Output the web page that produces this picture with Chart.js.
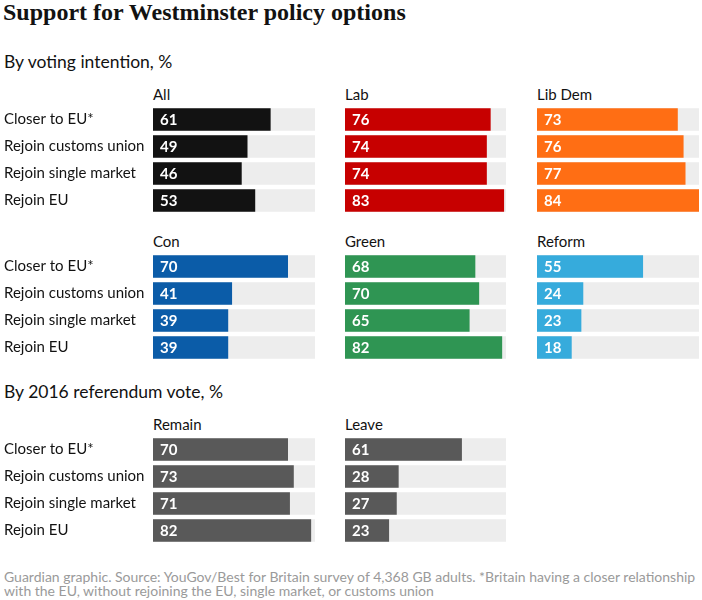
<!DOCTYPE html>
<html>
<head>
<meta charset="utf-8">
<script src="https://cdn.jsdelivr.net/npm/chart.js@4"></script>
<style>
  body { margin: 0; background: #fff; }
  #wrap { position: relative; width: 702px; height: 600px; overflow: hidden; font-family: Lato, sans-serif; color: #121212; }
  .txt { position: absolute; white-space: nowrap; }
  .title { left: 3px; top: 0; font: bold 24px/25px "Liberation Serif", serif; }
  .sub { left: 4px; font-size: 17.5px; line-height: 20px; }
  .panel-title { font-size: 15px; line-height: 18px; }
  .foot { left: 4px; top: 570px; font-size: 14px; line-height: 14px; color: #9a9a9a; white-space: normal; width: 698px; }
  canvas { position: absolute; }
</style>
</head>
<body>
<div id="wrap">
  <div class="txt title">Support for Westminster policy options</div>
  <div class="txt sub" style="top:52px">By voting intention, %</div>
  <div class="txt sub" style="top:382px">By 2016 referendum vote, %</div>
  <div class="txt foot">Guardian graphic. Source: YouGov/Best for Britain survey of 4,368 GB adults. *Britain having a closer relationship with the EU, without rejoining the EU, single market, or customs union</div>
</div>
<script>
// --- Datos ---
const categories = ['Closer to EU*', 'Rejoin customs union', 'Rejoin single market', 'Rejoin EU'];
const groupNames = ['All', 'Lab', 'Lib Dem', 'Con', 'Green', 'Reform', 'Remain', 'Leave'];
const allValues = [61, 49, 46, 53];
const labValues = [76, 74, 74, 83];
const libDemValues = [73, 76, 77, 84];
const conValues = [70, 41, 39, 39];
const greenValues = [68, 70, 65, 82];
const reformValues = [55, 24, 23, 18];
const remainValues = [70, 73, 71, 82];
const leaveValues = [61, 28, 27, 23];

// la pista gris llega hasta el valor más alto de todos los paneles
const trackMax = Math.max(...allValues, ...labValues, ...libDemValues, ...conValues,
  ...greenValues, ...reformValues, ...remainValues, ...leaveValues);

// --- Diseño de los paneles ---
const colLeft = [153, 345, 537];
const colWidth = [162, 161, 162];
const rowTop = [106, 253, 436];
const panels = [
  { name: groupNames[0], values: allValues, color: '#121212', col: 0, row: 0 },
  { name: groupNames[1], values: labValues, color: '#c70000', col: 1, row: 0 },
  { name: groupNames[2], values: libDemValues, color: '#ff6e14', col: 2, row: 0 },
  { name: groupNames[3], values: conValues, color: '#0b5ca8', col: 0, row: 1 },
  { name: groupNames[4], values: greenValues, color: '#2f9553', col: 1, row: 1 },
  { name: groupNames[5], values: reformValues, color: '#36abdc', col: 2, row: 1 },
  { name: groupNames[6], values: remainValues, color: '#595959', col: 0, row: 2 },
  { name: groupNames[7], values: leaveValues, color: '#595959', col: 1, row: 2 }
];

const LABEL_W = 153;
const ROW_H = 27;

Chart.defaults.font.family = 'Lato, sans-serif';

// Etiquetas blancas dentro de cada barra
const valueLabels = {
  id: 'valueLabels',
  afterDatasetsDraw(chart) {
    const ctx = chart.ctx;
    const meta = chart.getDatasetMeta(0);
    ctx.save();
    ctx.font = 'bold 15px Lato, sans-serif';
    ctx.fillStyle = '#ffffff';
    ctx.textBaseline = 'middle';
    meta.data.forEach((bar, i) => {
      ctx.fillText(chart.data.datasets[0].data[i], bar.base + 7, bar.y + 1);
    });
    ctx.restore();
  }
};

const wrap = document.getElementById('wrap');

panels.forEach(p => {
  const withLabels = p.col === 0;
  const left = withLabels ? 0 : colLeft[p.col];
  const width = withLabels ? LABEL_W + colWidth[0] : colWidth[p.col];
  const top = rowTop[p.row];

  // título del panel
  const t = document.createElement('div');
  t.className = 'txt panel-title';
  t.style.left = colLeft[p.col] + 'px';
  t.style.top = (top - 21) + 'px';
  t.textContent = p.name;
  wrap.appendChild(t);

  const canvas = document.createElement('canvas');
  canvas.width = width;
  canvas.height = ROW_H * categories.length;
  canvas.style.left = left + 'px';
  canvas.style.top = top + 'px';
  wrap.appendChild(canvas);

  const yAxis = {
    display: withLabels,
    grid: { display: false },
    border: { display: false },
    ticks: { crossAlign: 'far', padding: 0, color: '#121212', font: { size: 15 } }
  };
  if (withLabels) {
    yAxis.afterFit = scale => {
      scale.width = LABEL_W - 4;
      // sin relleno arriba/abajo para que las filas midan lo mismo en todos los paneles
      scale.paddingTop = 0;
      scale.paddingBottom = 0;
    };
  }

  new Chart(canvas.getContext('2d'), {
    type: 'bar',
    data: {
      labels: categories,
      datasets: [
        {
          data: p.values,
          backgroundColor: p.color,
          grouped: false,
          categoryPercentage: 1,
          barPercentage: 0.84
        },
        {
          data: categories.map(() => trackMax),
          backgroundColor: '#ededed',
          grouped: false,
          categoryPercentage: 1,
          barPercentage: 0.84
        }
      ]
    },
    options: {
      indexAxis: 'y',
      responsive: false,
      animation: false,
      layout: { padding: { left: withLabels ? 4 : 0, right: 0, top: 0, bottom: 0 } },
      plugins: {
        legend: { display: false },
        tooltip: { enabled: false }
      },
      scales: {
        x: { display: false, min: 0, max: trackMax },
        y: yAxis
      }
    },
    plugins: [valueLabels]
  });
});
</script>
</body>
</html>
